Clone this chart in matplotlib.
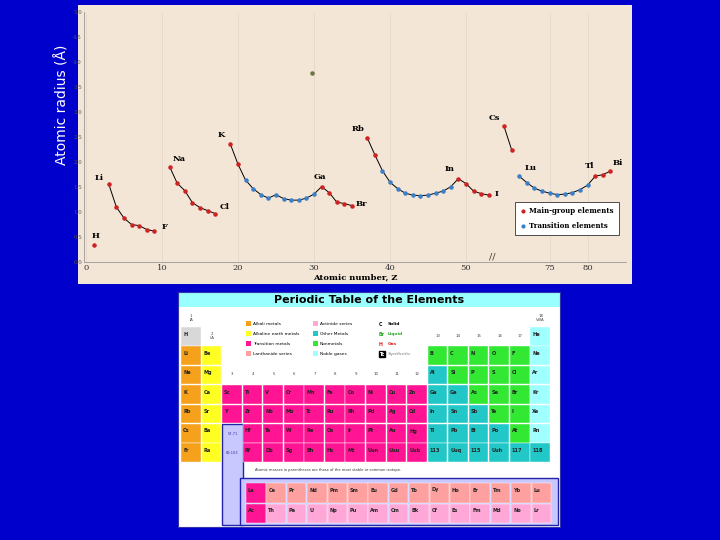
import matplotlib
matplotlib.use('Agg')
import matplotlib.pyplot as plt
from matplotlib.patches import Rectangle

BG = '#0000cc'
TAN = '#f4e6d6'
RED = '#cc2222'
BLUE = '#3a7fc8'

# ---- atomic radius data ----
periods = [
    (['H'], [1], [0.35], ['m']),
    (['Li', 'Be', 'B', 'C', 'N', 'O', 'F'], [3, 4, 5, 6, 7, 8, 9],
     [1.56, 1.10, 0.88, 0.75, 0.73, 0.65, 0.62], ['m'] * 7),
    (['Na', 'Mg', 'Al', 'Si', 'P', 'S', 'Cl'], [11, 12, 13, 14, 15, 16, 17],
     [1.91, 1.58, 1.43, 1.19, 1.09, 1.03, 0.97], ['m'] * 7),
    (['K', 'Ca', 'Sc', 'Ti', 'V', 'Cr', 'Mn', 'Fe', 'Co', 'Ni', 'Cu', 'Zn', 'Ga', 'Ge', 'As', 'Se', 'Br'],
     list(range(19, 36)),
     [2.36, 1.96, 1.64, 1.47, 1.35, 1.28, 1.35, 1.27, 1.24, 1.24, 1.28, 1.36, 1.51, 1.39, 1.20, 1.17, 1.13],
     ['m'] * 2 + ['t'] * 10 + ['m'] * 5),
    (['Rb', 'Sr', 'Y', 'Zr', 'Nb', 'Mo', 'Tc', 'Ru', 'Rh', 'Pd', 'Ag', 'Cd', 'In', 'Sn', 'Sb', 'Te', 'I'],
     list(range(37, 54)),
     [2.49, 2.15, 1.83, 1.60, 1.47, 1.38, 1.34, 1.33, 1.34, 1.38, 1.42, 1.51, 1.67, 1.57, 1.42, 1.37, 1.34],
     ['m'] * 2 + ['t'] * 10 + ['m'] * 5),
    (['Cs', 'Ba'], [55, 56], [2.72, 2.25], ['m', 'm']),
    (['Lu', 'Hf', 'Ta', 'W', 'Re', 'Os', 'Ir', 'Pt', 'Au', 'Hg', 'Tl', 'Pb', 'Bi'],
     list(range(71, 84)),
     [1.72, 1.59, 1.48, 1.42, 1.38, 1.35, 1.36, 1.39, 1.45, 1.54, 1.72, 1.75, 1.82],
     ['t'] * 10 + ['m'] * 3),
]
labelled = {'H': (0.3, 0.1), 'Li': (-1.3, 0.05), 'F': (1.3, 0), 'Na': (1.3, 0.08), 'Cl': (1.2, 0.05),
            'K': (-1.2, 0.1), 'Ga': (-0.2, 0.12), 'Br': (1.2, -0.05), 'Rb': (-1.2, 0.1),
            'In': (-1.1, 0.12), 'I': (1.0, -0.05), 'Cs': (-1.3, 0.08), 'Lu': (1.5, 0.08),
            'Tl': (-0.8, 0.12), 'Bi': (1.0, 0.08)}
x_ticks = [0, 10, 20, 30, 40, 50, 75, 80]


def xpos(z):
    # broken axis: lanthanides 57-70 removed
    return z if z <= 56 else z - 14


def fr(x0, y0, x1, y1):
    return [x0 / 720, 1 - y1 / 540, (x1 - x0) / 720, (y1 - y0) / 540]


fig = plt.figure(figsize=(7.2, 5.4), dpi=100)
fig.patch.set_facecolor(BG)

# tan frame of the scanned chart
frame = fig.add_axes(fr(78, 5, 632, 284))
frame.set_facecolor(TAN)
frame.set_xticks([]); frame.set_yticks([])
for s in frame.spines.values():
    s.set_visible(False)

ax = fig.add_axes(fr(84, 12.5, 626, 262))
ax.set_facecolor(TAN)
ax.set_xlim(-0.26, 71.05)
ax.set_ylim(0, 5.0)
for s in ['top', 'right']:
    ax.spines[s].set_visible(False)
for s in ['left', 'bottom']:
    ax.spines[s].set_color('#999999')
    ax.spines[s].set_linewidth(0.6)
ax.set_yticks([i * 0.5 for i in range(11)])
ax.set_yticklabels(['%.1f' % (i * 0.5) for i in range(11)], fontsize=4, family='serif', color='#555555')
ax.set_xticks([xpos(z) if z < 60 else z - 14 for z in x_ticks])
ax.set_xticklabels([str(z) for z in x_ticks], fontsize=6, family='serif', color='#333333')
ax.tick_params(length=0, pad=1.5)
ax.grid(axis='x', color='#e4d6c6', lw=0.5)

for syms, zs, rs, kinds in periods:
    xs = [xpos(z) for z in zs]
    ax.plot(xs, rs, color='black', lw=0.7, zorder=2)
    for s, x, r, k in zip(syms, xs, rs, kinds):
        ax.scatter(x, r, s=5, color=RED if k == 'm' else BLUE, zorder=3)
        if s in labelled:
            dx, dy = labelled[s]
            ax.text(x + dx, r + dy, s, fontsize=6, fontweight='bold', family='serif',
                    ha='center', va='bottom', zorder=4)
ax.scatter(29.8, 3.78, s=5, color='#667744', zorder=3)
ax.text(53, 0.05, '//', fontsize=7, color='#333333', family='serif')
ax.text(0.5, -0.045, 'Atomic number, Z', transform=ax.transAxes, ha='center', va='top',
        fontsize=6, fontweight='bold', family='serif')

# legend box
ax.add_patch(Rectangle((56.5, 0.55), 13.6, 0.65, facecolor='white', edgecolor='#333333', lw=0.6, zorder=4))
ax.scatter(57.5, 1.03, s=4, color=RED, zorder=5)
ax.text(58.3, 1.03, 'Main-group elements', fontsize=5, fontweight='bold', family='serif', va='center', zorder=5)
ax.scatter(57.5, 0.73, s=4, color=BLUE, zorder=5)
ax.text(58.3, 0.73, 'Transition elements', fontsize=5, fontweight='bold', family='serif', va='center', zorder=5)

fig.text(62 / 720, 1 - 105 / 540, 'Atomic radius (Å)', rotation=90, color='white',
         fontsize=10, ha='center', va='center')

# ---- periodic table ----
grid_syms = [
    ['H'] + [''] * 16 + ['He'],
    ['Li', 'Be'] + [''] * 10 + ['B', 'C', 'N', 'O', 'F', 'Ne'],
    ['Na', 'Mg'] + [''] * 10 + ['Al', 'Si', 'P', 'S', 'Cl', 'Ar'],
    ['K', 'Ca', 'Sc', 'Ti', 'V', 'Cr', 'Mn', 'Fe', 'Co', 'Ni', 'Cu', 'Zn', 'Ga', 'Ge', 'As', 'Se', 'Br', 'Kr'],
    ['Rb', 'Sr', 'Y', 'Zr', 'Nb', 'Mo', 'Tc', 'Ru', 'Rh', 'Pd', 'Ag', 'Cd', 'In', 'Sn', 'Sb', 'Te', 'I', 'Xe'],
    ['Cs', 'Ba', '', 'Hf', 'Ta', 'W', 'Re', 'Os', 'Ir', 'Pt', 'Au', 'Hg', 'Tl', 'Pb', 'Bi', 'Po', 'At', 'Rn'],
    ['Fr', 'Ra', '', 'Rf', 'Db', 'Sg', 'Bh', 'Hs', 'Mt', 'Uun', 'Uuu', 'Uub', '113', 'Uuq', '115', 'Uuh', '117', '118'],
]
grid_cats = [
    'h................g',
    'ae..........nnnnng',
    'ae..........onnnng',
    'aettttttttttoonnng',
    'aettttttttttooonng',
    'ae.tttttttttoooong',
    'ae.tttttttttoooooo',
]
f_syms = [['La', 'Ce', 'Pr', 'Nd', 'Pm', 'Sm', 'Eu', 'Gd', 'Tb', 'Dy', 'Ho', 'Er', 'Tm', 'Yb', 'Lu'],
          ['Ac', 'Th', 'Pa', 'U', 'Np', 'Pu', 'Am', 'Cm', 'Bk', 'Cf', 'Es', 'Fm', 'Md', 'No', 'Lr']]
f_cats = ['tlllllllllllll', 'tccccccccccccc']
colors = {'h': '#d8d8d8', 'a': '#f5a11c', 'e': '#ffff22', 't': '#ff1493', 'l': '#ffa0a0',
          'c': '#ffa8d8', 'o': '#22c8c8', 'n': '#33e833', 'g': '#a0ffff'}
legend_items = [('a', 'Alkali metals'), ('e', 'Alkaline earth metals'), ('t', 'Transition metals'),
                ('l', 'Lanthanide series'), ('c', 'Actinide series'), ('o', 'Other Metals'),
                ('n', 'Nonmetals'), ('g', 'Noble gases')]

pt = fig.add_axes(fr(178, 292, 560, 527))
pt.set_xlim(0, 382); pt.set_ylim(235, 0)
pt.set_xticks([]); pt.set_yticks([])
pt.set_facecolor('white')
for s in pt.spines.values():
    s.set_color('#3333aa')
pt.add_patch(Rectangle((0, 0), 382, 15, facecolor='#99ffff', edgecolor='none'))
pt.text(191, 8, 'Periodic Table of the Elements', ha='center', va='center', fontsize=8, fontweight='bold')

cw, ch, x0, y0 = 20.55, 19.4, 3, 35
# lavender placeholder frame
pt.add_patch(Rectangle((x0 + 2 * cw, y0 + 5 * ch), cw, 235 - (y0 + 5 * ch) - 2, facecolor='#c8c8ff',
                       edgecolor='#2222aa', lw=1))
pt.add_patch(Rectangle((x0 + 3 * cw - 3, 186), 382 - (x0 + 3 * cw) + 1, 47, facecolor='#c8c8ff',
                       edgecolor='#2222aa', lw=1))
pt.text(x0 + 2.5 * cw, y0 + 5.5 * ch, '57-71', fontsize=2.5, ha='center', va='center', color='#333399')
pt.text(x0 + 2.5 * cw, y0 + 6.5 * ch, '89-103', fontsize=2.5, ha='center', va='center', color='#333399')

for r, (syms, cats) in enumerate(zip(grid_syms, grid_cats)):
    for c, (s, k) in enumerate(zip(syms, cats)):
        if k == '.':
            continue
        x, y = x0 + c * cw, y0 + r * ch
        pt.add_patch(Rectangle((x, y), cw - 0.8, ch - 0.8, facecolor=colors[k], edgecolor='white', lw=0.3))
        pt.text(x + 2, y + 7, s, fontsize=3.6, fontweight='bold', va='center', color='#222222')
for r, (syms, cats) in enumerate(zip(f_syms, f_cats)):
    for c, s in enumerate(syms):
        k = cats[min(c, len(cats) - 1)]
        x, y = 68 + c * 20.4, 191 + r * 20.5
        pt.add_patch(Rectangle((x, y), 19.6, 19.6, facecolor=colors[k], edgecolor='white', lw=0.3))
        pt.text(x + 2, y + 7, s, fontsize=3.6, fontweight='bold', va='center', color='#222222')

for i, (k, lab) in enumerate(legend_items):
    lx, ly = 68 + (i // 4) * 67, 32 + (i % 4) * 10
    pt.add_patch(Rectangle((lx, ly - 3), 5, 5, facecolor=colors[k], edgecolor='none'))
    pt.text(lx + 7, ly, lab, fontsize=3.2, va='center')
for i, (sym, lab, col) in enumerate([('C', 'Solid', 'black'), ('Br', 'Liquid', '#22aa22'),
                                     ('H', 'Gas', '#dd2222'), ('Tc', 'Synthetic', '#aaaaaa')]):
    ly = 32 + i * 10
    pt.text(201, ly, sym, fontsize=3.4, fontweight='bold', va='center', color=col if i < 3 else 'white',
            bbox=dict(facecolor='black', pad=0.3) if i == 3 else None)
    pt.text(210, ly, lab, fontsize=3.2, va='center', color=col, fontweight='bold')

pt.text(x0 + 0.5 * cw, 26, '1\nIA', fontsize=2.8, ha='center', va='center', color='#444444')
pt.text(x0 + 1.5 * cw, 44, '2\nIIA', fontsize=2.8, ha='center', va='center', color='#444444')
pt.text(x0 + 17.5 * cw, 26, '18\nVIIIA', fontsize=2.8, ha='center', va='center', color='#444444')
for g in range(13, 18):
    pt.text(x0 + (g - 0.5) * cw, 44, str(g), fontsize=2.8, ha='center', va='center', color='#444444')
for g in range(3, 13):
    pt.text(x0 + (g - 0.5) * cw, 82, str(g), fontsize=2.8, ha='center', va='center', color='#444444')
pt.text(150, 178, 'Atomic masses in parentheses are those of the most stable or common isotope.',
        fontsize=2.6, ha='center', va='center', color='#333333')

fig.savefig('out.png', dpi=100, facecolor=BG)
